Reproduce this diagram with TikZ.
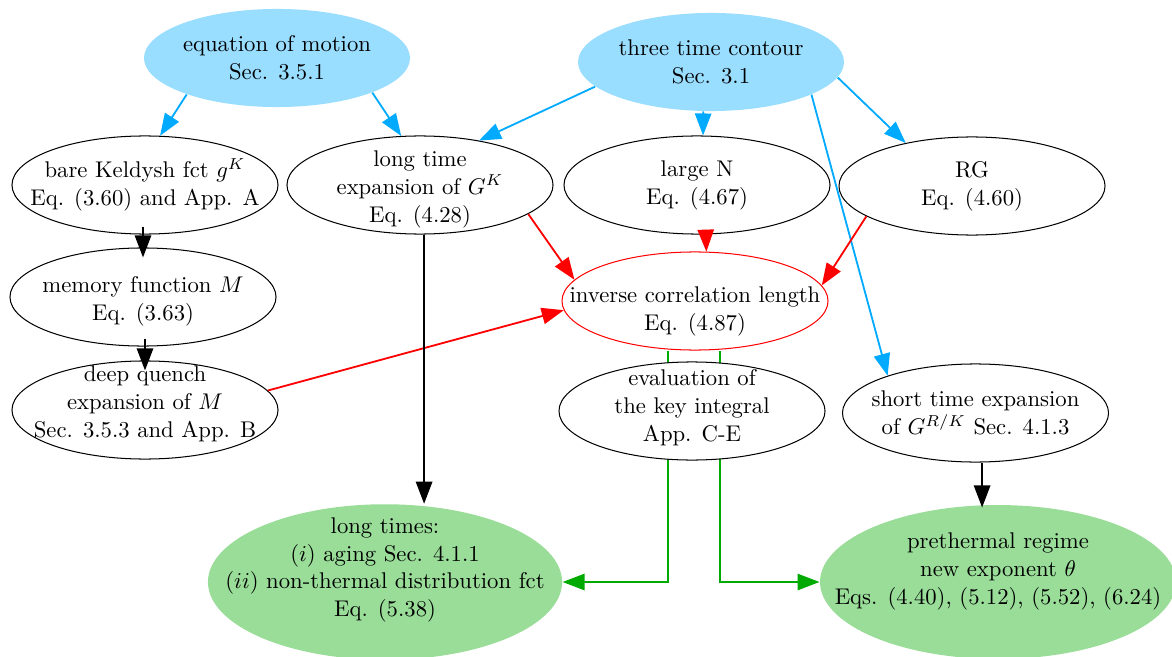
\documentclass[tikz,border=0pt]{standalone}
\usetikzlibrary{shapes.geometric,arrows.meta,backgrounds}

\definecolor{topblue}{RGB}{153,221,255}
\definecolor{resgreen}{RGB}{153,221,153}
\definecolor{edgeblue}{RGB}{0,170,255}
\definecolor{edgegreen}{RGB}{0,170,0}

\tikzset{
  ell/.style={ellipse, draw=black, line width=0.45pt, fill=white,
    minimum width=117.2pt, minimum height=43.2pt, inner sep=0pt},
  srcnode/.style={ell, draw=none, fill=topblue},
  resnode/.style={ell, draw=none, fill=resgreen,
    minimum width=156pt, minimum height=68.5pt},
  keynode/.style={ell, draw=red},
  txt/.style={align=center, inner sep=0pt, font=\fontsize{10}{12.3}\selectfont},
  arr/.style={-{Triangle[length=9.7pt,width=7.2pt]}, line width=0.8pt},
  blue/.style={arr, edgeblue},
  redarr/.style={arr, red},
  blackarr/.style={arr, black},
  greenarr/.style={arr, edgegreen},
}

\begin{document}
\begin{tikzpicture}[x=0.4405pt, y=-0.4405pt]
\useasboundingbox (0,0) rectangle (1172,656);

% sources
\node[srcnode, label={[txt]center:{equation of motion\\Sec. 3.5.1}}] (eom) at (277,58) {};
\node[srcnode, label={[txt]center:{three time contour\\Sec. 3.1}}] (ttc) at (711,62) {};

% intermediate steps
\node[ell, label={[txt]center:{bare Keldysh fct $g^K$\\Eq. (3.60) and App. A}}] (bk) at (145,185) {};
\node[ell, label={[txt, yshift=-1.8pt]center:{long time\\expansion of $G^K$\\Eq. (4.28)}}] (lte) at (420,185) {};
\node[ell, label={[txt]center:{large N\\Eq. (4.67)}}] (ln) at (697,185) {};
\node[ell, label={[txt]center:{RG\\Eq. (4.60)}}] (rg) at (972,186) {};
\node[ell, label={[txt, yshift=-1.8pt]center:{memory function $M$\\Eq. (3.63)}}] (mem) at (143,297) {};
\node[keynode, label={[txt, yshift=-4.5pt]center:{inverse correlation length\\Eq. (4.87)}}] (icl) at (695,301) {};
\node[ell, label={[txt, yshift=2.6pt]center:{deep quench\\expansion of $M$\\Sec. 3.5.3 and App. B}}] (dq) at (145,410) {};
\node[ell, label={[txt, yshift=1.3pt]center:{evaluation of\\the key integral\\App. C-E}}] (ev) at (692,411) {};
\node[ell, label={[txt]center:{short time expansion\\of $G^{R/K}$ Sec. 4.1.3}}] (st) at (975.5,413) {};

% results
\node[resnode, label={[txt, yshift=5.3pt]center:{long times:\\$(i)$ aging Sec. 4.1.1\\$(ii)$ non-thermal distribution fct\\Eq. (5.38)}}] (lt) at (385,582) {};
\node[resnode, minimum width=156.8pt, minimum height=67.8pt,
  label={[txt, yshift=4.8pt]center:{prethermal regime\\new exponent $\theta$\\Eqs. (4.40), (5.12), (5.52), (6.24)}}] (pt) at (998,582) {};

% connectors from the key quantity run behind the evaluation node
\begin{pgfonlayer}{background}
  \fill[white] (0,0) rectangle (1172,656);
  \draw[greenarr] ([xshift=-11.9pt]icl.south) |- (lt.east);
  \draw[greenarr] ([xshift=11pt]icl.south) |- (pt.west);
\end{pgfonlayer}

% from the sources
\draw[blue] (eom.202.6) -- (bk.73.4);
\draw[blue] (eom.-20.1) -- (lte.111.4);
\draw[blue] (ttc.192.1) -- (lte.37.2);
\draw[blue] (ttc.261.9) -- (ln.83);
\draw[blue] (ttc.-7.5) -- (rg.147.3);
\draw[blue] (ttc.-18.1) -- (st.157.5);

% into the inverse correlation length
\draw[redarr] (lte.-15.2) -- (icl.170.8);
\draw[redarr] ([yshift=2pt]ln.280) -- (icl.77.5);
\draw[redarr] (rg.196.4) -- (icl.7.6);
\draw[redarr] (dq.9.2) -- (icl.184.9);

% vertical chains
\draw[blackarr] ([yshift=3.5pt]mem.north |- bk.south) -- ([yshift=-4.4pt]mem.north);
\draw[blackarr] ([yshift=3.5pt]dq.north |- mem.south) -- ([yshift=-4.4pt]dq.north);
\draw[blackarr] ([xshift=1.8pt]lte.south) -- ([xshift=1.8pt]lte.south |- lt.north);
\draw[blackarr] ([xshift=2.9pt]st.south) -- ([xshift=2.9pt, yshift=-1.3pt]st.south |- pt.north);
\end{tikzpicture}
\end{document}
